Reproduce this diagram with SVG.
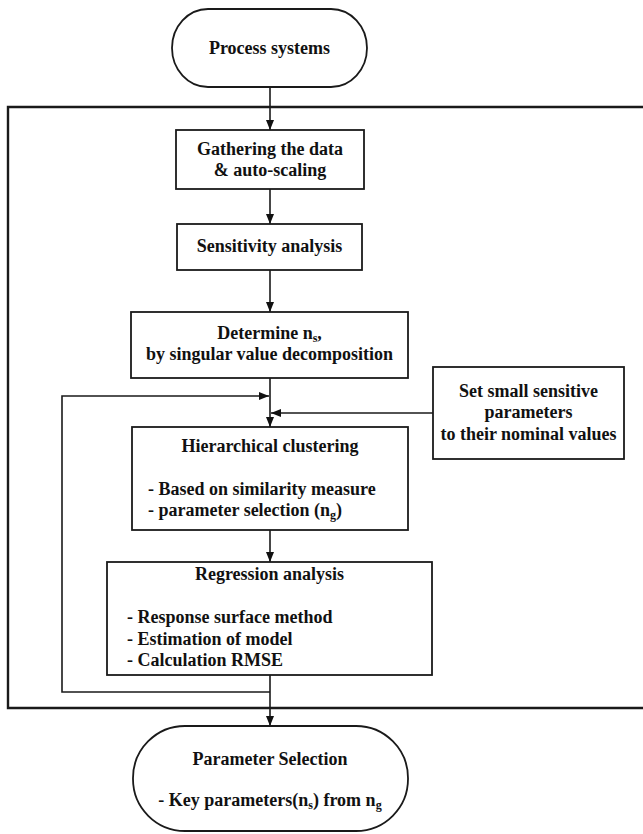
<svg xmlns="http://www.w3.org/2000/svg" width="643" height="834" viewBox="0 0 643 834">
<defs>
<marker id="ah" markerUnits="userSpaceOnUse" markerWidth="10" markerHeight="10" viewBox="0 0 10 10" refX="10" refY="5" orient="auto">
<path d="M0,1 L10,5 L0,9 Z" fill="#111"/>
</marker>
<style>
.box{fill:#fff;stroke:#1a1a1a;stroke-width:1.8}
.frame{fill:none;stroke:#1a1a1a;stroke-width:2.4}
.ln{fill:none;stroke:#1a1a1a;stroke-width:1.6}
.t{font-family:"Liberation Serif","Times New Roman",serif;font-weight:bold;font-size:18px;fill:#111}
.c{text-anchor:middle}
.sub{font-size:12px}
</style>
</defs>
<rect width="643" height="834" fill="#fff"/>
<path class="frame" d="M650,107 L8,107 L8,708 L650,708"/>
<g id="connectors">
<path class="ln" d="M270,87 L270,130" marker-end="url(#ah)"/>
<path class="ln" d="M270,189 L270,224" marker-end="url(#ah)"/>
<path class="ln" d="M270,270 L270,312" marker-end="url(#ah)"/>
<path class="ln" d="M270,378 L270,427" marker-end="url(#ah)"/>
<path class="ln" d="M433,413 L271,413" marker-end="url(#ah)"/>
<path class="ln" d="M270,692 L62,692 L62,396 L269,396" marker-end="url(#ah)"/>
<path class="ln" d="M270,530 L270,562" marker-end="url(#ah)"/>
<path class="ln" d="M270,675 L270,726" marker-end="url(#ah)"/>
</g>
<g id="process-systems">
<rect class="box" x="172" y="9" width="195" height="78" rx="36" ry="39"/>
<text class="t c" x="269.5" y="54">Process systems</text>
</g>
<g id="gathering">
<rect class="box" x="176" y="130" width="188" height="59"/>
<text class="t c" x="270" y="155">Gathering the data</text>
<text class="t c" x="270" y="176">&amp; auto-scaling</text>
</g>
<g id="sensitivity">
<rect class="box" x="177" y="224" width="185" height="46"/>
<text class="t c" x="269.5" y="252">Sensitivity analysis</text>
</g>
<g id="determine">
<rect class="box" x="131" y="312" width="277" height="66"/>
<text class="t c" x="269.5" y="339">Determine n<tspan class="sub" dy="3">s</tspan><tspan dy="-3">,</tspan></text>
<text class="t c" x="269.5" y="360">by singular value decomposition</text>
</g>
<g id="set-small">
<rect class="box" x="433" y="367" width="191" height="92"/>
<text class="t c" x="528.5" y="397">Set small sensitive</text>
<text class="t c" x="528.5" y="418">parameters</text>
<text class="t c" x="528.5" y="440">to their nominal values</text>
</g>
<g id="hierarchical">
<rect class="box" x="132" y="427" width="276" height="103"/>
<text class="t c" x="270" y="452">Hierarchical clustering</text>
<text class="t" x="148" y="495">- Based on similarity measure</text>
<text class="t" x="148" y="516">- parameter selection (n<tspan class="sub" dy="3">g</tspan><tspan dy="-3">)</tspan></text>
</g>
<g id="regression">
<rect class="box" x="107" y="562" width="325" height="113"/>
<text class="t c" x="269.5" y="580">Regression analysis</text>
<text class="t" x="127" y="623">- Response surface method</text>
<text class="t" x="127" y="645">- Estimation of model</text>
<text class="t" x="127" y="666">- Calculation RMSE</text>
</g>
<g id="parameter-selection">
<rect class="box" x="133" y="726" width="275" height="105" rx="52" ry="52"/>
<text class="t c" x="270" y="765">Parameter Selection</text>
<text class="t c" x="270" y="806">- Key parameters(n<tspan class="sub" dy="3">s</tspan><tspan dy="-3">) from n</tspan><tspan class="sub" dy="3">g</tspan></text>
</g>
</svg>
